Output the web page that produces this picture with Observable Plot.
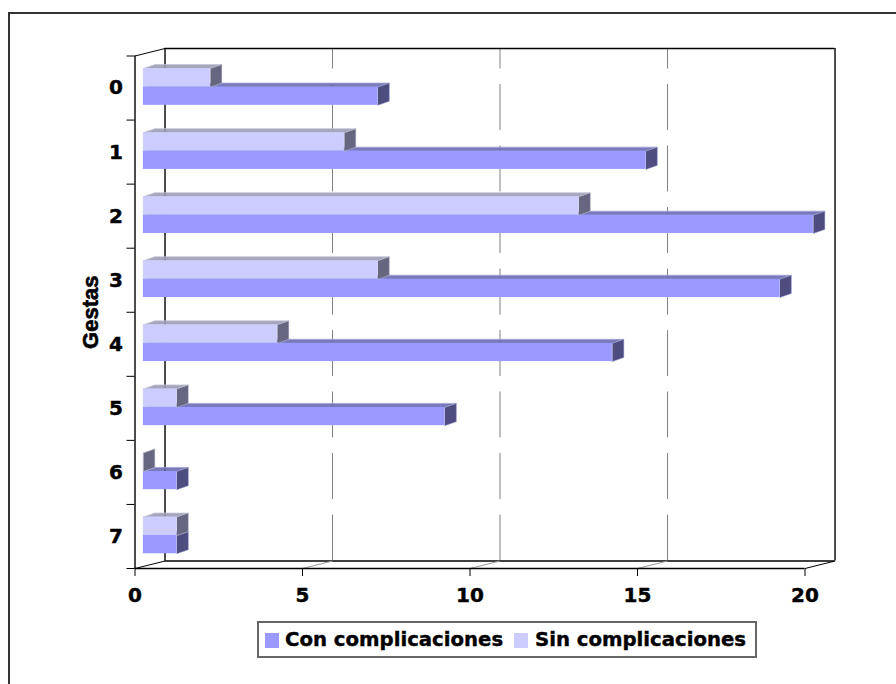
<!DOCTYPE html>
<html lang="es">
<head>
<meta charset="utf-8">
<script src="https://cdn.jsdelivr.net/npm/d3@7"></script>
<script src="https://cdn.jsdelivr.net/npm/@observablehq/plot@0.6"></script>
<style>
  html, body { margin: 0; padding: 0; background: #fff; overflow: hidden; }
  #frame { position: absolute; left: 8px; top: 12px; right: 0; bottom: 0;
           border-top: 2px solid #333; border-left: 2px solid #333; pointer-events: none; }
  #chart svg { display: block; }
  #chart svg g[aria-label="x-axis tick label"] text { stroke: #000; stroke-width: 0.45px; }
  #legend { position: absolute; left: 257px; top: 621px; width: 496px; height: 33px;
            border: 2px solid #666; background: #fff;
            font: bold 19.7px "DejaVu Sans", sans-serif; color: #000; white-space: nowrap;
            -webkit-text-stroke: 0.4px #000; }
  #legend i { display: inline-block; width: 14px; height: 15px; }
  #legend span { position: absolute; top: 2px; line-height: 29px; }
</style>
</head>
<body>
<div id="chart"></div>
<div id="legend"></div>
<div id="frame"></div>
<script>
// Casos por número de gestas, con y sin complicaciones
const gestas = ["0", "1", "2", "3", "4", "5", "6", "7"];
const conComplicaciones = [7, 15, 20, 19, 14, 9, 1, 1];
const sinComplicaciones = [2, 6, 13, 7, 4, 1, 0, 1];
const xTicks = [0, 5, 10, 15, 20];

const colors = {
  con: {front: "#9999ff", side: "#4d4d80", top: "#6666b3", edge: "#a3a3d6"},
  sin: {front: "#ccccff", side: "#666680", top: "#9999b3", edge: "#c4c4d8"}
};

// Perspective offsets, expressed in scale units
const wallX = 0.896, wallY = 0.117;   // depth of the chart box
const barX = 0.343, barY = 0.0625;    // depth of each bar
const barStart = 0.25;                // bars stand slightly inside the box

// Vertical extent of the two bars within a band
const sinTop = 0.197, midLine = 0.485, conBottom = 0.77;

function bars(values, top, bottom) {
  return values.map((v, i) => ({
    i, x1: barStart, x2: barStart + v, y1: i + top, y2: i + bottom
  }));
}
function topFaces(rows) {
  return rows.flatMap(r => [
    {id: r.i, x: r.x1, y: r.y1},
    {id: r.i, x: r.x1 + barX, y: r.y1 - barY},
    {id: r.i, x: r.x2 + barX, y: r.y1 - barY},
    {id: r.i, x: r.x2, y: r.y1}
  ]);
}
function sideFaces(rows) {
  return rows.flatMap(r => [
    {id: r.i, x: r.x2, y: r.y1},
    {id: r.i, x: r.x2 + barX, y: r.y1 - barY},
    {id: r.i, x: r.x2 + barX, y: r.y2 - barY},
    {id: r.i, x: r.x2, y: r.y2}
  ]);
}
function solid(rows, c) {
  return [
    Plot.line(topFaces(rows), {x: "x", y: "y", z: "id", curve: "linear-closed",
      fill: c.top, fillOpacity: 0.88, stroke: c.edge, strokeWidth: 0.8}),
    Plot.line(sideFaces(rows), {x: "x", y: "y", z: "id", curve: "linear-closed",
      fill: c.side, stroke: c.edge, strokeWidth: 0.5}),
    Plot.rect(rows, {x1: "x1", x2: "x2", y1: "y1", y2: "y2", fill: c.front})
  ];
}

const conRows = bars(conComplicaciones, midLine, conBottom);
const sinRows = bars(sinComplicaciones, sinTop, midLine);
const font = '"DejaVu Sans", sans-serif';
const maxX = xTicks[xTicks.length - 1];

const chart = Plot.plot({
  width: 896,
  height: 620,
  marginLeft: 134.5,
  marginRight: 91.5,
  marginTop: 55.5,
  marginBottom: 52,
  style: {background: "transparent"},
  x: {domain: [0, maxX]},
  y: {domain: [0, gestas.length], range: [55.5, 568]},
  marks: [
    // back wall: dashed guides, then its outline
    Plot.ruleX(xTicks.slice(1, -1).map(v => v + wallX), {
      y1: gestas.length - wallY, y2: -wallY,
      stroke: "#808080", strokeWidth: 1, strokeDasharray: "46,15.5"
    }),
    Plot.ruleX([wallX, maxX + wallX], {y1: -wallY, y2: gestas.length - wallY, stroke: "#000", strokeWidth: 1.4}),
    Plot.ruleY([-wallY, gestas.length - wallY], {x1: wallX, x2: maxX + wallX, stroke: "#000", strokeWidth: 1.4}),
    // floor diagonals
    Plot.link(xTicks.slice(1, -1), {
      x1: d => d, y1: gestas.length, x2: d => d + wallX, y2: gestas.length - wallY,
      stroke: "#999", strokeWidth: 1
    }),
    Plot.link([0, maxX], {
      x1: d => d, y1: gestas.length, x2: d => d + wallX, y2: gestas.length - wallY,
      stroke: "#000", strokeWidth: 1
    }),
    Plot.link([0], {x1: 0, y1: 0, x2: wallX, y2: -wallY, stroke: "#000", strokeWidth: 1}),
    // bars
    ...solid(conRows, colors.con),
    ...solid(sinRows, colors.sin),
    // front axes
    Plot.ruleX([0], {y1: 0, y2: gestas.length, stroke: "#000", strokeWidth: 1.4}),
    Plot.ruleY([gestas.length], {x1: 0, x2: maxX, stroke: "#000", strokeWidth: 1.4}),
    Plot.axisY({ticks: d3.range(gestas.length + 1), tickSize: 8, tickFormat: () => "", label: null, stroke: "#000"}),
    Plot.axisX({ticks: xTicks, tickSize: 8, tickFormat: () => "", label: null, stroke: "#000"}),
    // tick values along the floor
    Plot.text(xTicks, {
      x: d => d, text: d => `${d}`, frameAnchor: "bottom", dy: 27,
      lineAnchor: "middle", textAnchor: "middle", fontFamily: font, fontWeight: "bold", fontSize: 20,
      fill: "#000", stroke: "#000", strokeWidth: 0.45
    }),
    // band labels and axis title
    Plot.text(gestas, {
      text: d => d, y: (d, i) => i + 0.5, frameAnchor: "left", dx: -19,
      textAnchor: "middle", fontFamily: font, fontWeight: "bold", fontSize: 20,
      fill: "#000", stroke: "#000", strokeWidth: 0.45
    }),
    Plot.text(["Gestas"], {
      y: 4, frameAnchor: "left", dx: -44, rotate: -90, textAnchor: "middle",
      fontFamily: '"Liberation Sans", Arial, sans-serif', fontWeight: "bold", fontSize: 22,
      fill: "#000", stroke: "#000", strokeWidth: 0.6
    })
  ]
});
document.getElementById("chart").append(chart);

// Legend below the plot
const legend = document.getElementById("legend");
[["Con complicaciones", colors.con.front, 6, 26], ["Sin complicaciones", colors.sin.front, 255, 276]].forEach(([label, color, sx, tx]) => {
  const swatch = document.createElement("i");
  swatch.style.cssText = `position:absolute;left:${sx}px;top:10px;background:${color}`;
  const text = document.createElement("span");
  text.textContent = label;
  text.style.left = tx + "px";
  legend.append(swatch, text);
});
</script>
</body>
</html>
